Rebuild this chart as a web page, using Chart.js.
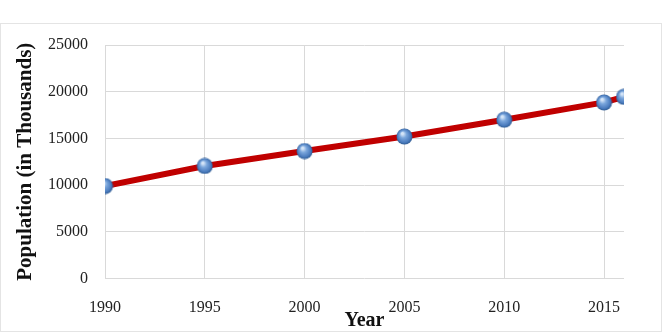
<!DOCTYPE html>
<html>
<head>
<meta charset="utf-8">
<script src="https://cdn.jsdelivr.net/npm/chart.js@4/dist/chart.umd.min.js"></script>
<style>
  html, body { margin: 0; padding: 0; background: #fff; }
  .wrap { position: relative; width: 663px; height: 334px; }
  .card { position: absolute; left: 0; top: 23px; width: 660px; height: 307px; border: 1px solid #e4e4e4; }
  .wrap canvas { position: absolute; left: 0; top: 0; }
</style>
</head>
<body>
<div class="wrap">
  <div class="card"></div>
  <canvas class="pop-chart" width="663" height="334"></canvas>
</div>
<script>
const years = [1990, 1995, 2000, 2005, 2010, 2015, 2016];
const population = [9900, 12050, 13650, 15200, 17000, 18850, 19450];

// blue "glass ball" marker like the Excel style
function makeBall(size) {
    const c = document.createElement('canvas');
    c.width = size; c.height = size;
    const g = c.getContext('2d');
    const r = size / 2 - 0.5;
    const grad = g.createRadialGradient(size * 0.38, size * 0.32, 1, size / 2, size / 2, r);
    grad.addColorStop(0, '#d6e6f8');
    grad.addColorStop(0.35, '#7aa6dc');
    grad.addColorStop(0.8, '#4a7bbd');
    grad.addColorStop(1, '#2d5a92');
    g.beginPath();
    g.arc(size / 2, size / 2, r, 0, Math.PI * 2);
    g.fillStyle = grad;
    g.fill();
    return c;
}

const serif = "'Liberation Serif', 'Times New Roman', serif";
const ctx = document.querySelector('.pop-chart');

new Chart(ctx, {
    type: 'line',
    data: {
        datasets: [{
            label: 'Population',
            data: years.map((y, i) => ({ x: y, y: population[i] })),
            borderColor: '#c00000',
            borderWidth: 6,
            pointStyle: makeBall(17),
            tension: 0
        }]
    },
    options: {
        responsive: false,
        animation: false,
        layout: { padding: { left: 0, top: 45, right: 39, bottom: 0 } },
        plugins: { legend: { display: false }, tooltip: { enabled: false } },
        scales: {
            x: {
                type: 'linear',
                min: 1990,
                max: 2016,
                border: { display: false },
                grid: { color: '#d9d9d9', drawTicks: false },
                ticks: { stepSize: 5, includeBounds: false, padding: 20, color: '#222',
                    font: { family: serif, size: 16 }, callback: v => String(v) },
                title: { display: true, text: 'Year', color: '#111',
                    font: { family: serif, size: 20, weight: 'bold' }, padding: { top: 0, bottom: 1 } },
                afterFit: s => { s.height = 55.5; }
            },
            y: {
                min: 0,
                max: 25000,
                border: { display: false },
                grid: { color: '#d9d9d9', drawTicks: false },
                ticks: { stepSize: 5000, padding: 17, color: '#222',
                    font: { family: serif, size: 16 }, callback: v => String(v) },
                title: { display: true, text: 'Population (in Thousands)', color: '#111',
                    font: { family: serif, size: 21, weight: 'bold' }, padding: { top: 13, bottom: 0 } },
                afterFit: s => { s.width = 105; }
            }
        }
    }
});
</script>
</body>
</html>
